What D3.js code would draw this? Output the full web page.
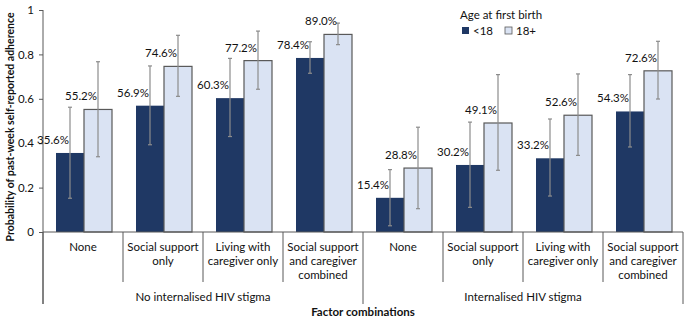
<!DOCTYPE html>
<html>
<head>
<meta charset="utf-8">
<script src="https://cdn.jsdelivr.net/npm/d3@7/dist/d3.min.js"></script>
<style>
  body { margin: 0; background: #fff; }
  svg { display: block; font-family: Lato, "Open Sans", sans-serif; }
</style>
</head>
<body>
<svg id="chart" width="685" height="319"></svg>
<script>
// ---- data ----
const categories = ["None", "Social support only", "Living with caregiver only", "Social support and caregiver combined",
                    "None", "Social support only", "Living with caregiver only", "Social support and caregiver combined"];
const categoryLines = [["None"], ["Social support", "only"], ["Living with", "caregiver only"], ["Social support", "and caregiver", "combined"],
                       ["None"], ["Social support", "only"], ["Living with", "caregiver only"], ["Social support", "and caregiver", "combined"]];
const groups = ["No internalised HIV stigma", "Internalised HIV stigma"];
const seriesNames = ["<18", "18+"];
const under18 = [0.356, 0.569, 0.603, 0.784, 0.154, 0.302, 0.332, 0.543];
const over18  = [0.552, 0.746, 0.772, 0.890, 0.288, 0.491, 0.526, 0.726];
const under18Low  = [0.152, 0.393, 0.430, 0.715, 0.028, 0.111, 0.162, 0.383];
const under18High = [0.562, 0.748, 0.782, 0.857, 0.281, 0.495, 0.509, 0.709];
const over18Low   = [0.339, 0.611, 0.643, 0.844, 0.105, 0.278, 0.345, 0.599];
const over18High  = [0.767, 0.886, 0.905, 0.941, 0.472, 0.709, 0.712, 0.859];
const yTicks = [0, 0.2, 0.4, 0.6, 0.8, 1];
const yTitle = "Probability of past-week self-reported adherence";
const xTitle = "Factor combinations";
const legendTitle = "Age at first birth";

// ---- layout ----
const svg = d3.select("#chart");
const mLeft = 43, mRight = 683, mTop = 10, mBottom = 232;
const colors = ["#1f3864", "#dae3f3"];
const textColor = "#111";
const idx = d3.range(categories.length);

const x = d3.scaleBand().domain(idx).range([mLeft, mRight]).padding(0);
const bw = x.bandwidth();
const xs = d3.scaleBand().domain([0, 1]).range([bw * 0.1625, bw * 0.8625]).padding(0);
const y = d3.scaleLinear().domain([0, 1]).range([mBottom, mTop]);

const series = [
  { vals: under18, lo: under18Low, hi: under18High },
  { vals: over18, lo: over18Low, hi: over18High }
];

// y axis
const yAxis = d3.axisLeft(y).tickValues(yTicks).tickSize(4).tickFormat(d => d3.format("~g")(d));
const ya = svg.append("g").attr("transform", `translate(${mLeft},0)`).call(yAxis);
ya.select(".domain").remove();
ya.selectAll(".tick line").attr("stroke", "#595959");
ya.selectAll(".tick text").attr("font-size", 11.5).attr("fill", textColor).attr("font-family", "Lato, sans-serif").attr("dx", -2);
svg.append("line").attr("x1", mLeft).attr("x2", mLeft).attr("y1", mTop).attr("y2", 304).attr("stroke", "#595959");

// bars
series.forEach((s, si) => {
  svg.append("g").selectAll("rect").data(idx).join("rect")
    .attr("x", i => x(i) + xs(si))
    .attr("width", xs.bandwidth())
    .attr("y", i => y(s.vals[i]))
    .attr("height", i => y(0) - y(s.vals[i]))
    .attr("fill", colors[si])
    .attr("stroke", si === 1 ? "#595959" : "none")
    .attr("stroke-width", 1.2);
});

// error bars
series.forEach((s, si) => {
  const g = svg.append("g").attr("stroke", "#8c8c8c").attr("stroke-width", 1.2);
  idx.forEach(i => {
    const cx = x(i) + xs(si) + xs.bandwidth() / 2;
    g.append("line").attr("x1", cx).attr("x2", cx).attr("y1", y(s.lo[i])).attr("y2", y(s.hi[i]));
    g.append("line").attr("x1", cx - 2).attr("x2", cx + 2).attr("y1", y(s.lo[i])).attr("y2", y(s.lo[i]));
    g.append("line").attr("x1", cx - 2).attr("x2", cx + 2).attr("y1", y(s.hi[i])).attr("y2", y(s.hi[i]));
  });
});

// value labels
series.forEach((s, si) => {
  svg.append("g").selectAll("text").data(idx).join("text")
    .attr("x", i => x(i) + xs(si) + xs.bandwidth() / 2 - 1)
    .attr("y", i => y(s.vals[i]) - 9)
    .attr("text-anchor", "end")
    .attr("font-size", 11.5)
    .attr("fill", textColor)
    .text(i => d3.format(".1f")(s.vals[i] * 100) + "%");
});

// x axis baseline
svg.append("line").attr("x1", mLeft).attr("x2", mRight).attr("y1", mBottom).attr("y2", mBottom).attr("stroke", "#595959");

// separators
d3.range(categories.length + 1).forEach(k => {
  const xx = mLeft + k * bw;
  const outer = k % 4 === 0;
  svg.append("line").attr("x1", xx).attr("x2", xx).attr("y1", mBottom).attr("y2", outer ? 304 : 282)
    .attr("stroke", "#595959");
});

// category labels
idx.forEach(i => {
  const t = svg.append("text").attr("text-anchor", "middle").attr("font-size", 11.5).attr("fill", textColor)
    .attr("x", x(i) + bw / 2).attr("y", 251);
  categoryLines[i].forEach((ln, li) => {
    t.append("tspan").attr("x", x(i) + bw / 2).attr("dy", li === 0 ? 0 : 14).text(ln);
  });
});

// group labels
groups.forEach((gname, gi) => {
  svg.append("text").attr("text-anchor", "middle").attr("font-size", 11.5).attr("fill", textColor)
    .attr("x", mLeft + (gi * 4 + 2) * bw).attr("y", 301).text(gname);
});

// x title
svg.append("text").attr("text-anchor", "middle").attr("font-size", 11.5).attr("font-weight", "bold").attr("fill", textColor)
  .attr("x", (mLeft + mRight) / 2).attr("y", 316).text(xTitle);

// y title
svg.append("text").attr("text-anchor", "middle").attr("font-size", 10.5).attr("font-weight", "bold").attr("fill", textColor)
  .attr("transform", `translate(14,${(mTop + mBottom) / 2 + 6}) rotate(-90)`).text(yTitle);

// legend
const lg = svg.append("g").attr("transform", "translate(460,0)");
lg.append("text").attr("x", 0).attr("y", 19).attr("font-size", 11.5).attr("fill", textColor).text(legendTitle);
const lx = [2, 45];
seriesNames.forEach((nm, si) => {
  lg.append("rect").attr("x", lx[si]).attr("y", 27).attr("width", 7).attr("height", 7)
    .attr("fill", colors[si]).attr("stroke", si === 1 ? "#595959" : "none").attr("stroke-width", 0.8);
  lg.append("text").attr("x", lx[si] + 11).attr("y", 35).attr("font-size", 11.5).attr("fill", textColor).text(nm);
});
</script>
</body>
</html>
